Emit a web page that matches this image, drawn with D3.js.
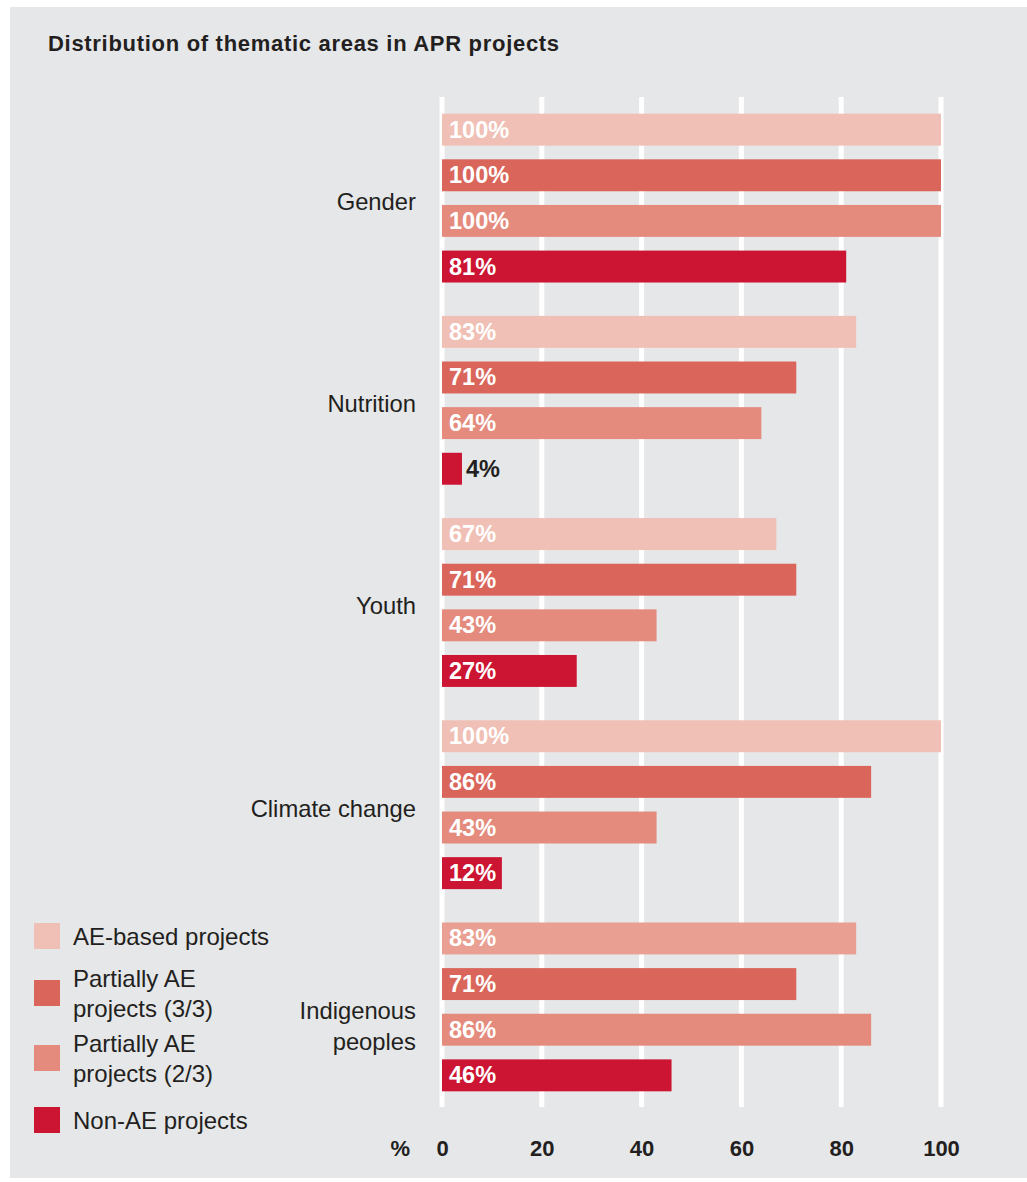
<!DOCTYPE html>
<html>
<head>
<meta charset="utf-8">
<script src="https://cdn.jsdelivr.net/npm/d3@7"></script>
<style>
  body { margin: 0; background: #fff; }
  svg { display: block; font-family: 'Liberation Sans', Arial, sans-serif; }
</style>
</head>
<body>
<div id="chart"></div>
<script>
// data
const groups = ['Gender', 'Nutrition', 'Youth', 'Climate change', 'Indigenous peoples'];
const seriesNames = ['AE-based projects', 'Partially AE projects (3/3)', 'Partially AE projects (2/3)', 'Non-AE projects'];
const aeBased = [100, 83, 67, 100, 83];
const partialAE33 = [100, 71, 71, 86, 71];
const partialAE23 = [100, 64, 43, 43, 86];
const nonAE = [81, 4, 27, 12, 46];
const xTicks = [0, 20, 40, 60, 80, 100];

const seriesValues = [aeBased, partialAE33, partialAE23, nonAE];
const colors = ['#f0bfb5', '#da655b', '#e48b7e', '#cc1433'];
const legendLines = [['AE-based projects'], ['Partially AE', 'projects (3/3)'], ['Partially AE', 'projects (2/3)'], ['Non-AE projects']];
const labelLines = { 'Indigenous peoples': ['Indigenous', 'peoples'] };

const width = 1027;
const height = 1182;
const textColor = '#231f20';

const svg = d3.select('#chart')
  .append('svg')
  .attr('width', width)
  .attr('height', height);

// grey panel
svg.append('rect')
  .attr('x', 10).attr('y', 7)
  .attr('width', width - 10).attr('height', height - 11)
  .attr('fill', '#e6e7e9');

svg.append('text')
  .attr('x', 48).attr('y', 51)
  .attr('font-size', 22)
  .attr('letter-spacing', 0.7)
  .attr('font-weight', 'bold')
  .attr('fill', textColor)
  .text('Distribution of thematic areas in APR projects');

const x = d3.scaleLinear()
  .domain([0, 100])
  .range([442, 941]);

const y = d3.scaleBand()
  .domain(groups)
  .range([97, 1108])
  .paddingInner(0.165)
  .paddingOuter(0.0825);

const yInner = d3.scaleBand()
  .domain(d3.range(seriesNames.length))
  .range([0, y.bandwidth()])
  .paddingInner(0.3)
  .paddingOuter(0);

// gridlines
svg.append('g')
  .selectAll('line')
  .data(xTicks)
  .join('line')
  .attr('x1', d => x(d)).attr('x2', d => x(d))
  .attr('y1', 97).attr('y2', 1107)
  .attr('stroke', '#fff')
  .attr('stroke-width', 5);

// x axis labels
const xAxis = svg.append('g')
  .attr('transform', 'translate(0,1156)')
  .call(d3.axisBottom(x).tickValues(xTicks).tickSize(0).tickPadding(0));
xAxis.select('.domain').remove();
xAxis.selectAll('text')
  .attr('dy', 0)
  .attr('font-family', "'Liberation Sans', Arial, sans-serif")
  .attr('font-size', 22)
  .attr('font-weight', 'bold')
  .attr('fill', textColor);

svg.append('text')
  .attr('x', 410).attr('y', 1156)
  .attr('text-anchor', 'end')
  .attr('font-size', 22)
  .attr('font-weight', 'bold')
  .attr('fill', textColor)
  .text('%');

// bars
const groupG = svg.append('g')
  .selectAll('g')
  .data(groups)
  .join('g')
  .attr('transform', d => `translate(0,${y(d)})`);

const bars = groupG.selectAll('g.bar')
  .data((g, gi) => seriesValues.map((vals, si) => ({ group: g, gi, si, value: vals[gi] })))
  .join('g')
  .attr('class', 'bar');

bars.append('rect')
  .attr('x', x(0))
  .attr('y', d => yInner(d.si))
  .attr('width', d => x(d.value) - x(0))
  .attr('height', yInner.bandwidth())
  // the reference draws the last AE-based bar in a deeper tint
  .attr('fill', d => (d.si === 0 && d.gi === 4) ? '#e9a093' : colors[d.si]);

const inside = d => x(d.value) - x(0) > 40;

bars.append('text')
  .attr('x', d => inside(d) ? x(0) + 7 : x(d.value) + 4)
  .attr('y', d => yInner(d.si) + yInner.bandwidth() / 2 + 8)
  .attr('font-size', 23.5)
  .attr('font-weight', 'bold')
  .attr('fill', d => inside(d) ? '#fff' : textColor)
  .text(d => d.value + '%');

// category labels
groupG.append('text')
  .attr('x', 416)
  .attr('y', y.bandwidth() / 2 + 12)
  .attr('text-anchor', 'end')
  .attr('font-size', 23.8)
  .attr('fill', textColor)
  .selectAll('tspan')
  .data(d => labelLines[d] || [d])
  .join('tspan')
  .attr('x', 416)
  .attr('dy', (d, i) => i === 0 ? 0 : 31)
  .text(d => d);

// legend
const legendY = [923, 980, 1045, 1107];
const legend = svg.append('g')
  .selectAll('g')
  .data(seriesNames)
  .join('g')
  .attr('transform', (d, i) => `translate(34,${legendY[i]})`);

legend.append('rect')
  .attr('width', 26).attr('height', 26)
  .attr('fill', (d, i) => colors[i]);

legend.append('text')
  .attr('font-size', 24)
  .attr('fill', textColor)
  .attr('y', (d, i) => legendLines[i].length > 1 ? 13 - 14 + 8 : 13 + 9)
  .selectAll('tspan')
  .data((d, i) => legendLines[i])
  .join('tspan')
  .attr('x', 39)
  .attr('dy', (d, i) => i === 0 ? 0 : 30)
  .text(d => d);
</script>
</body>
</html>
